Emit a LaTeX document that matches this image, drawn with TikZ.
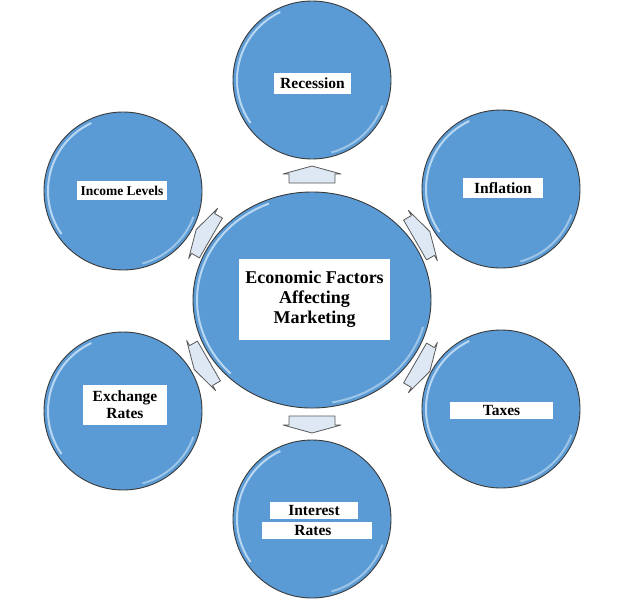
\documentclass[tikz,border=0pt]{standalone}
\usepackage{fontspec}
\setmainfont{Liberation Serif}
\usetikzlibrary{shapes.geometric}
\definecolor{cfill}{HTML}{5B9BD5}
\definecolor{cedge}{HTML}{3A3A3A}
\definecolor{chl}{HTML}{B9D7F1}
\definecolor{afill}{HTML}{DDE8F4}
\begin{document}
\begin{tikzpicture}[x=1pt,y=-1pt,
  bub/.style={circle,draw=cedge,line width=0.9pt,fill=cfill,minimum size=158pt,inner sep=0pt},
  hl/.style={draw=chl,line width=2pt},
  lbl/.style={fill=white,inner sep=0pt,font=\bfseries\fontsize{15.5}{17}\selectfont,text=black,align=center},
  blk/.style={draw=cedge!85,fill=afill,line width=0.8pt,line join=round}]
\useasboundingbox (0,0) rectangle (639,600);
\fill[white] (0,0) rectangle (639,600);
% outer bubbles
\node[bub] (rec) at (312,80) {};
\node[bub] (inf) at (501,189) {};
\node[bub] (tax) at (501,409) {};
\node[bub] (int) at (312,519) {};
\node[bub] (exc) at (123,411) {};
\node[bub] (inc) at (123,191) {};
% center ellipse
\node[ellipse,draw=cedge,line width=0.9pt,fill=cfill,minimum width=238pt,minimum height=216pt,inner sep=0pt] (ctr) at (312,300) {};
% highlights (y axis flipped: visual angle = -angle)
\foreach \n in {rec,inf,tax,int,exc,inc}{
  \draw[hl] (\n.center) ++(-115:75) arc[start angle=-115,end angle=-215,radius=75];
  \draw[hl,draw opacity=0.7] (\n.center) ++(20:75) arc[start angle=20,end angle=75,radius=75];
}
\draw[hl] (ctr.center) ++(-112:115 and 104) arc[start angle=-112,end angle=-225,x radius=115,y radius=104];
\draw[hl,draw opacity=0.7] (ctr.center) ++(15:115 and 104) arc[start angle=15,end angle=80,x radius=115,y radius=104];
% block arrows
\coordinate (a1) at (312,175);
\coordinate (a2) at (422,236);
\coordinate (a3) at (422,367);
\coordinate (a4) at (312,424);
\coordinate (a5) at (202,365);
\coordinate (a6) at (204,234);
\foreach \nm/\a in {a1/90,a2/30,a3/-30,a4/-90,a5/210,a6/150}{
  \draw[blk,shift={(\nm)},rotate=\a] (-8,-23) -- (1,-23) -- (1,-29) -- (9,0) -- (1,29) -- (1,23) -- (-8,23) -- cycle;
}
% labels
\node[lbl,minimum width=151pt,minimum height=81pt,font=\bfseries\fontsize{18}{20}\selectfont] (ctrl) at (314.5,299.5) {Economic Factors\\Affecting\\Marketing};
\node[lbl,minimum width=77pt,minimum height=21pt] (recl) at (312.5,83.5) {Recession};
\node[lbl,minimum width=80pt,minimum height=20pt] (infl) at (503,188) {Inflation};
\node[lbl,minimum width=103pt,minimum height=17pt] (taxl) at (501.5,410.5) {Taxes};
\node[lbl,minimum width=88pt,minimum height=17pt] (intl1) at (314,510.5) {Interest};
\node[lbl,minimum width=110pt,minimum height=17pt] (intl2) at (317,530.5) {\hspace*{-8pt}Rates};
\node[lbl,minimum width=84pt,minimum height=40pt] (excl) at (125,405) {Exchange\\Rates};
\node[lbl,minimum width=90pt,minimum height=19pt,font=\bfseries\fontsize{13.5}{15}\selectfont] (incl) at (122,190.5) {Income Levels};
\end{tikzpicture}
\end{document}
